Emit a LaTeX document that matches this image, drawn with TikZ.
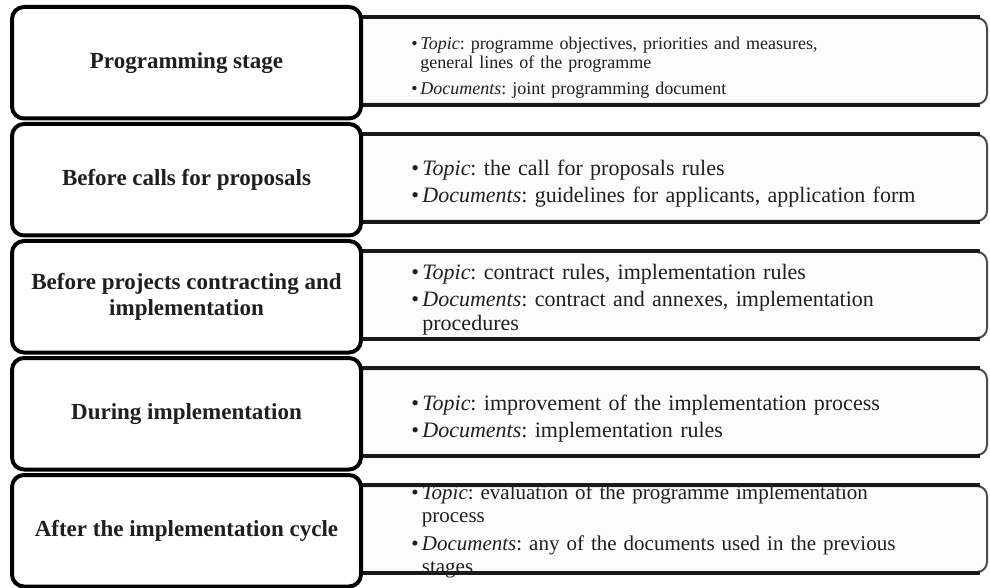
\documentclass[tikz,border=0pt]{standalone}
\usepackage{fontspec}
\setmainfont{Liberation Serif}
\newcommand{\pitem}[2]{\hangindent=0.5em\hangafter=1\makebox[0.5em][l]{\textbullet}\textit{#1}: #2\par}
\begin{document}
\begin{tikzpicture}[x=0.5pt,y=-0.5pt,
    stage/.style={draw=black,line width=2pt,rounded corners=6pt,fill=white,
      minimum width=174.5pt,minimum height=55.75pt,inner sep=0pt,align=center,
      text=black!88,font=\fontsize{11.5}{13}\selectfont\bfseries},
    panel/.style={draw=black!70,line width=1pt,rounded corners=5pt,fill=black!1,
      minimum width=323.5pt,minimum height=43pt,inner sep=0pt},
    rim/.style={draw=black!90,line width=2pt},
    topics/.style={anchor=west,inner sep=0pt,text width=285pt,text=black!88,
      execute at begin node={\raggedright\frenchspacing\setlength{\parskip}{#1}}},
    topics/.default=1.5pt]
  \useasboundingbox (0,0) rectangle (990,588);
  % panels on the right
  \node[panel] (r1) at (663.5,61) {};
  \node[panel] (r2) at (663.5,178) {};
  \node[panel] (r3) at (663.5,295) {};
  \node[panel] (r4) at (663.5,412) {};
  \node[panel] (r5) at (663.5,529) {};
  \foreach \r in {r1,r2,r3,r4,r5}{
    \draw[rim] (\r.north west) -- ([xshift=-4pt]\r.north east);
    \draw[rim] (\r.south west) -- ([xshift=-4pt]\r.south east);
  }
  % texts of the panels
  \node[topics=3.5pt,font=\fontsize{9}{9.5}\selectfont] (t1) at (411,68)
    {\pitem{Topic}{programme objectives, priorities and measures,\newline general lines of the programme}
     \pitem{Documents}{joint programming document}};
  \node[topics,font=\fontsize{11}{12}\selectfont] (t2) at (411,184)
    {\pitem{Topic}{the call for proposals rules}
     \pitem{Documents}{guidelines for applicants, application form}};
  \node[topics,font=\fontsize{11}{12}\selectfont] (t3) at (411,300)
    {\pitem{Topic}{contract rules, implementation rules}
     \pitem{Documents}{contract and annexes, implementation\newline procedures}};
  \node[topics,font=\fontsize{11}{12}\selectfont] (t4) at (411,419)
    {\pitem{Topic}{improvement of the implementation process}
     \pitem{Documents}{implementation rules}};
  \node[topics=2.5pt,font=\fontsize{10.5}{11.5}\selectfont] (t5) at (411,531)
    {\pitem{Topic}{evaluation of the programme implementation\newline process}
     \pitem{Documents}{any of the documents used in the previous\newline stages}};
  % stages on the left
  \node[stage] (s1) at (186.5,62.75) {Programming stage};
  \node[stage] (s2) at (186.5,179.75) {Before calls for proposals};
  \node[stage] (s3) at (186.5,296.75) {Before projects contracting and\\ implementation};
  \node[stage] (s4) at (186.5,413.75) {During implementation};
  \node[stage] (s5) at (186.5,530.75) {After the implementation cycle};
\end{tikzpicture}
\end{document}
